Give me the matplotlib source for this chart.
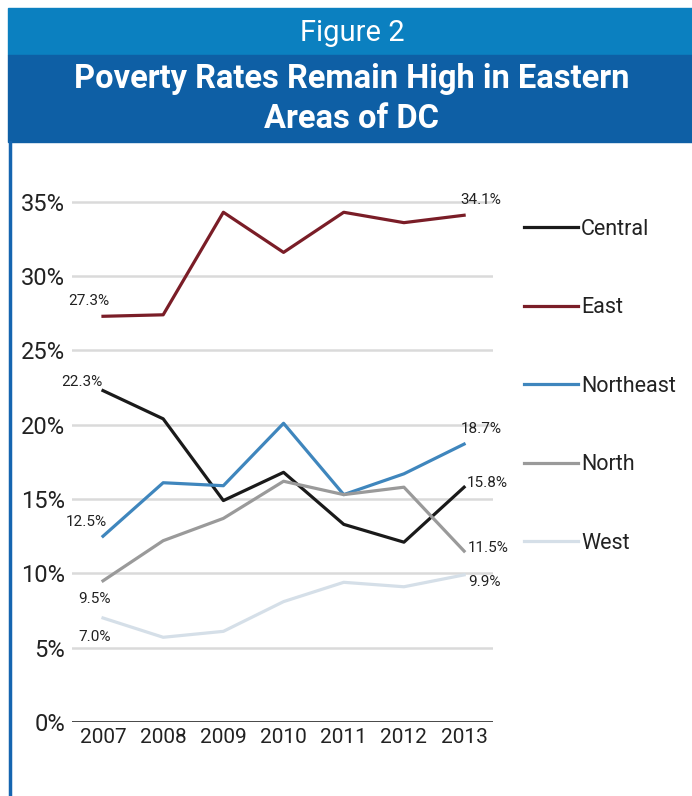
import matplotlib.pyplot as plt
from matplotlib.patches import Rectangle
from matplotlib.lines import Line2D

plt.rcParams['font.family'] = ['Roboto', 'DejaVu Sans']

# data
years = [2007, 2008, 2009, 2010, 2011, 2012, 2013]
central = [22.3, 20.4, 14.9, 16.8, 13.3, 12.1, 15.8]
east = [27.3, 27.4, 34.3, 31.6, 34.3, 33.6, 34.1]
northeast = [12.5, 16.1, 15.9, 20.1, 15.3, 16.7, 18.7]
north = [9.5, 12.2, 13.7, 16.2, 15.3, 15.8, 11.5]
west = [7.0, 5.7, 6.1, 8.1, 9.4, 9.1, 9.9]
names = ['Central', 'East', 'Northeast', 'North', 'West']
colors = ['#1a1a1a', '#7a1d27', '#3f86bd', '#9a9a9a', '#d5dfe8']
yticks = [0, 5, 10, 15, 20, 25, 30, 35]

fig = plt.figure(figsize=(6.92, 7.96), dpi=100)

# header bands
fig.patches.append(Rectangle((8/692, 1 - 55/796), 1, 47/796, transform=fig.transFigure,
                             color='#0b80c0', zorder=0))
fig.patches.append(Rectangle((8/692, 1 - 142/796), 1, 87/796, transform=fig.transFigure,
                             color='#0e5fa5', zorder=0))
fig.add_artist(Line2D([10/692, 10/692], [0, 1 - 142/796], color='#1565b0', lw=2.5))
fig.text(352/692, 1 - 33/796, 'Figure 2', color='white', fontsize=21,
         ha='center', va='center')
fig.text(352/692, 1 - 99/796, 'Poverty Rates Remain High in Eastern\nAreas of DC',
         color='white', fontsize=23.5, fontweight='bold', ha='center', va='center',
         linespacing=1.3)

ax = fig.add_axes([72/692, 74/796, 421/692, 535/796])
series = [central, east, northeast, north, west]
order = [4, 3, 2, 0, 1]
for i in order:
    ax.plot(years, series[i], color=colors[i], lw=2.3, label=names[i], zorder=3 + i)

ax.set_xlim(2006.485, 2013.48)
ax.set_ylim(0, 36)
ax.set_yticks(yticks)
ax.set_yticklabels([f'{t}%' for t in yticks], fontsize=17, color='#222222')
ax.set_xticks(years)
ax.set_xticklabels([str(y) for y in years], fontsize=15, color='#222222')
ax.tick_params(length=0, pad=4)
ax.tick_params(axis='y', pad=5)
for t in yticks[1:]:
    ax.axhline(t, color='#dadada', lw=1.8, zorder=1)
ax.axhline(0, color='#111111', lw=1.8, zorder=2)
for s in ax.spines.values():
    s.set_visible(False)

# value labels
lab = dict(fontsize=11, color='#222222', textcoords='offset points')
ax.annotate('34.1%', (2013, 34.1), xytext=(12, 11), ha='center', va='center', **lab)
ax.annotate('27.3%', (2007, 27.3), xytext=(-10, 11), ha='center', va='center', **lab)
ax.annotate('22.3%', (2007, 22.3), xytext=(-15, 6), ha='center', va='center', **lab)
ax.annotate('18.7%', (2013, 18.7), xytext=(12, 11), ha='center', va='center', **lab)
ax.annotate('15.8%', (2013, 15.8), xytext=(17, 3), ha='center', va='center', **lab)
ax.annotate('12.5%', (2007, 12.5), xytext=(-12, 10), ha='center', va='center', **lab)
ax.annotate('11.5%', (2013, 11.5), xytext=(17, 2), ha='center', va='center', **lab)
ax.annotate('9.5%', (2007, 9.5), xytext=(-6, -13), ha='center', va='center', **lab)
ax.annotate('9.9%', (2013, 9.9), xytext=(15, -5), ha='center', va='center', **lab)
ax.annotate('7.0%', (2007, 7.0), xytext=(-6, -14), ha='center', va='center', **lab)

handles = [Line2D([], [], color=colors[i], lw=2.3) for i in range(5)]
fig.legend(handles, names, loc='upper left', bbox_to_anchor=(524/692, 1 - 219/796),
           frameon=False, fontsize=15.5, handlelength=2.5, handletextpad=0.15,
           labelspacing=2.67, borderpad=0, borderaxespad=0, labelcolor='#222222')

fig.savefig('out.png', dpi=100)
